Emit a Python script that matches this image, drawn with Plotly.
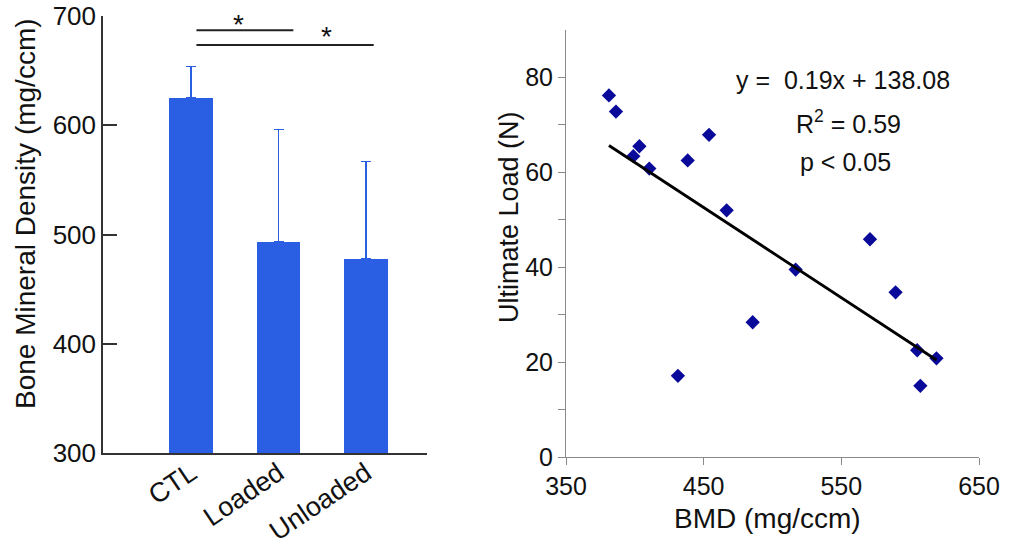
import plotly.graph_objects as go

# ---- Left panel data: Bone Mineral Density ----
groups = ["CTL", "Loaded", "Unloaded"]
bmd_mean = [625, 493, 478]
bmd_err = [29, 103, 89]

# significance brackets: (x start, x end, y level) in group-index / data units
sig_lines = [(0.06, 1.17, 687), (0.06, 2.09, 673.5)]
sig_stars = [(0.54, 692.5), (1.55, 681)]

# ---- Right panel data: BMD vs Ultimate Load ----
bmd_x = [381.2, 386.3, 398.9, 403.3, 410.5, 438.4, 453.9, 466.7, 570.8, 516.8,
         589.4, 485.6, 605.1, 619.1, 431.3, 607.4]
load_y = [76.2, 72.8, 63.4, 65.5, 60.8, 62.5, 67.9, 52.0, 45.9, 39.5,
          34.7, 28.4, 22.5, 20.8, 17.1, 15.0]
fit_slope = -0.19
fit_intercept = 138.08

FONT = "Arial, Liberation Sans, sans-serif"
BAR = "#2A5FE3"
W, H = 1029, 558

fig = go.Figure()

fig.add_trace(go.Bar(
    x=groups, y=bmd_mean, width=0.5, marker=dict(color=BAR, line=dict(width=0)),
    error_y=dict(type="data", array=bmd_err, arrayminus=[0, 0, 0], symmetric=False,
                 color=BAR, thickness=1.5, width=5),
    xaxis="x", yaxis="y", showlegend=False))

fig.add_trace(go.Scatter(
    x=bmd_x, y=load_y, mode="markers",
    marker=dict(symbol="diamond", size=11, color="#0A0A9A"),
    xaxis="x2", yaxis="y2", showlegend=False))

xf = [min(bmd_x), max(bmd_x)]
fig.add_trace(go.Scatter(
    x=xf, y=[fit_slope * v + fit_intercept for v in xf], mode="lines",
    line=dict(color="black", width=2.8), xaxis="x2", yaxis="y2", showlegend=False))

shapes = []
for x0, x1, yv in sig_lines:
    shapes.append(dict(type="line", xref="x", yref="y", x0=x0, x1=x1, y0=yv, y1=yv,
                       line=dict(color="#222", width=2)))

annotations = []
for xs, ys in sig_stars:
    annotations.append(dict(x=xs, y=ys, xref="x", yref="y", text="*", showarrow=False,
                            xanchor="center", yanchor="middle",
                            font=dict(size=28, color="#111", family=FONT)))


def ann(px, py, text, size, angle=0):
    return dict(x=px / W, y=(H - py) / H, xref="paper", yref="paper", text=text,
                textangle=angle, showarrow=False, xanchor="center", yanchor="middle",
                font=dict(size=size, color="#111", family=FONT))


annotations += [
    ann(26, 214, "Bone Mineral Density (mg/ccm)", 28, -90),
    ann(509, 217, "Ultimate Load (N)", 27, -90),
    ann(767, 518, "BMD (mg/ccm)", 28),
    ann(843, 80, "y =  0.19x + 138.08", 25),
    ann(848, 122, "R<sup>2</sup> = 0.59", 25),
    ann(845, 162, "p < 0.05", 25),
]

fig.update_layout(
    width=W, height=H, margin=dict(l=0, r=0, t=0, b=0, autoexpand=False),
    paper_bgcolor="white", plot_bgcolor="white",
    font=dict(family=FONT, size=25, color="#111"),
    shapes=shapes, annotations=annotations, bargap=0,
    xaxis=dict(domain=[103 / W, 427 / W], anchor="y", type="category",
               range=[-1.01, 2.70], showline=True, linecolor="#333", linewidth=1.5,
               ticks="", tickangle=-34, showgrid=False, zeroline=False,
               ticklabelstandoff=-8, tickfont=dict(size=27)),
    yaxis=dict(domain=[(H - 453) / H, (H - 16) / H], anchor="x", range=[300, 700],
               tickvals=[300, 400, 500, 600, 700], showline=True, linecolor="#333",
               linewidth=1.5, ticks="inside", ticklen=14, tickwidth=1.5, tickcolor="#333",
               showgrid=False, zeroline=False, tickfont=dict(size=26)),
    xaxis2=dict(domain=[566 / W, 979 / W], anchor="y2", range=[350, 650],
                tickvals=[350, 450, 550, 650], showline=True, linecolor="#8a8a8a",
                linewidth=1, ticks="outside", ticklen=7, tickcolor="#8a8a8a",
                showgrid=False, zeroline=False, tickfont=dict(size=25)),
    yaxis2=dict(domain=[(H - 457) / H, (H - 30) / H], anchor="x2", range=[0, 90],
                tickvals=[0, 10, 20, 30, 40, 50, 60, 70, 80],
                ticktext=["0", "", "20", "", "40", "", "60", "", "80"],
                showline=True, linecolor="#8a8a8a", linewidth=1, ticks="outside",
                ticklen=7, tickcolor="#8a8a8a", showgrid=False, zeroline=False,
                tickfont=dict(size=25)),
)

fig.write_html("out.html", config={"displayModeBar": False},
               post_script="document.body.style.margin='0';")
